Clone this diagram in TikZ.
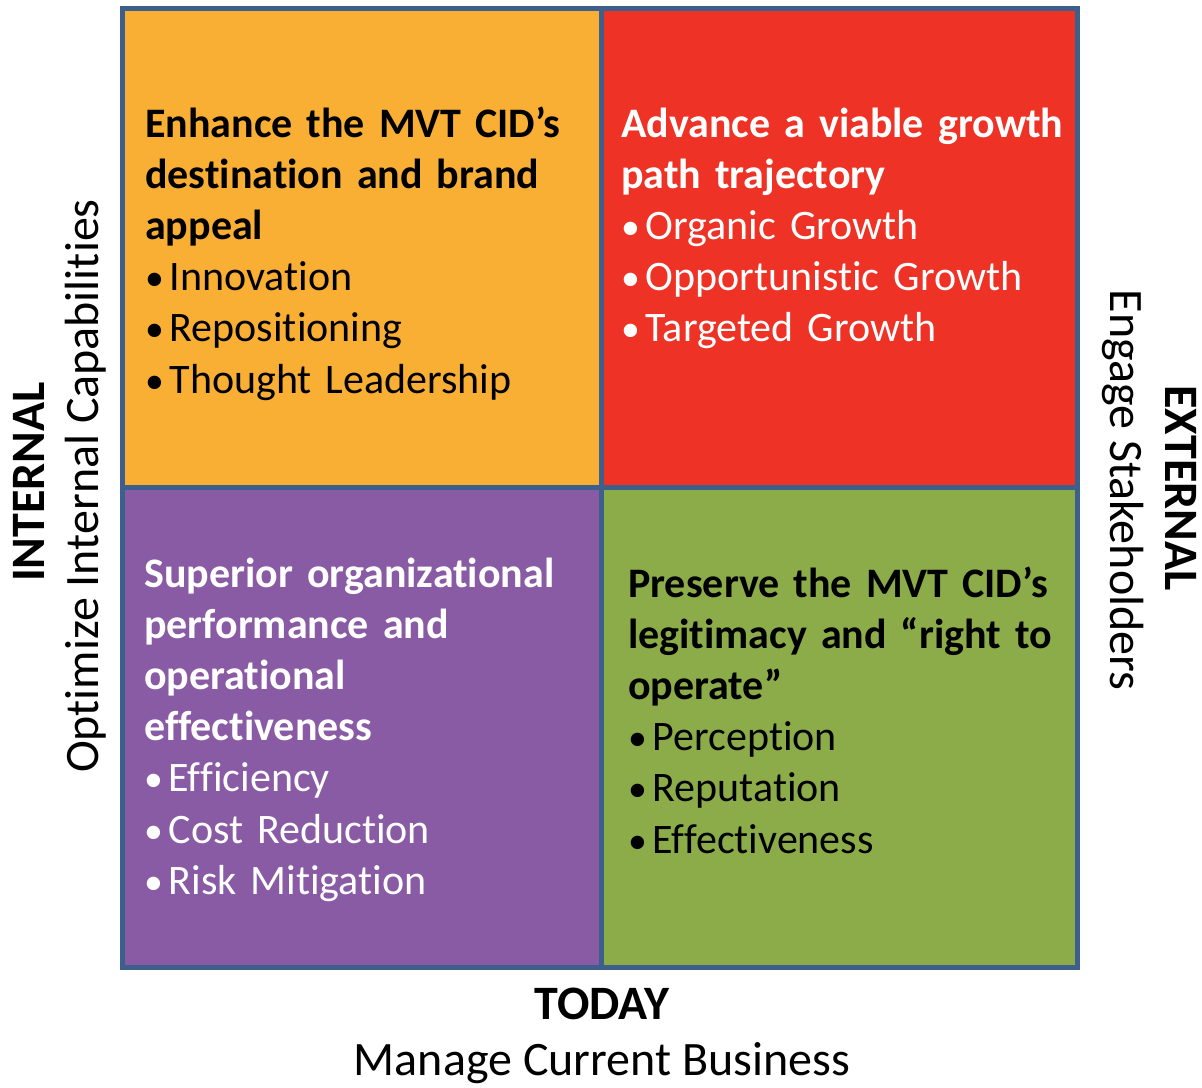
\documentclass[tikz,border=0pt]{standalone}
\usepackage{fontspec}
\setmainfont{Carlito}[Ligatures={NoCommon}]
\usepackage{xcolor}
\usepackage{tikz}
\usetikzlibrary{calc}

\definecolor{oranye}{HTML}{F9AE34}
\definecolor{merah}{HTML}{EE3225}
\definecolor{ungu}{HTML}{8A5BA5}
\definecolor{hijau}{HTML}{8BAC48}
\definecolor{garis}{HTML}{3D5F8C}

\newcommand{\butir}[1]{\makebox[24.5pt][l]{\scalebox{0.9}{\textbullet}}#1}

\tikzset{
    kotakteks/.style={anchor=base west, inner sep=0pt, text width=470pt, align=left,
        font=\fontsize{42}{51.2}\selectfont},
    labelsumbu/.style={anchor=base, inner sep=0pt, font=\fontsize{48}{58}\selectfont},
    labeltebal/.style={labelsumbu, font=\fontsize{48}{58}\selectfont\bfseries}
}

\begin{document}
\begin{tikzpicture}[x=1pt,y=-1pt]
        \useasboundingbox (0,0) rectangle (1202,1087);

        %KOORDINAT
        \coordinate (KA) at (122,8);
        \coordinate (KB) at (1077.5,8);
        \coordinate (KC) at (1077.5,967.5);
        \coordinate (KD) at (122,967.5);
        \coordinate (M) at (601.5,487);

        %KUADRAN
        \fill[oranye] (KA) rectangle (M);
        \fill[merah] (KA -| M) rectangle (M -| KB);
        \fill[ungu] (KA |- M) rectangle (M |- KD);
        \fill[hijau] (M) rectangle (KC);

        %GARIS
        \draw[garis, line width=5pt] (KA) rectangle (KC);
        \draw[garis, line width=5pt] (KA -| M) -- (KD -| M);
        \draw[garis, line width=5pt] (KA |- M) -- (KB |- M);

        %TEKS KUADRAN
        \node[kotakteks, text=black] (oranyeteks) at (145,137)
            {\textbf{Enhance the MVT CID’s}\\
             \textbf{destination and brand}\\
             \textbf{appeal}\\
             \butir{Innovation}\\
             \butir{Repositioning}\\
             \butir{Thought Leadership}};
        \node[kotakteks, text=white] (merahteks) at (621,137)
            {\textbf{Advance a viable growth}\\
             \textbf{path trajectory}\\
             \butir{Organic Growth}\\
             \butir{Opportunistic Growth}\\
             \butir{Targeted Growth}};
        \node[kotakteks, text=white] (unguteks) at (144,587)
            {\textbf{Superior organizational}\\
             \textbf{performance and}\\
             \textbf{operational}\\
             \textbf{effectiveness}\\
             \butir{Efficiency}\\
             \butir{Cost Reduction}\\
             \butir{Risk Mitigation}};
        \node[kotakteks, text=black] (hijauteks) at (628,597)
            {\textbf{Preserve the MVT CID’s}\\
             \textbf{legitimacy and “right to}\\
             \textbf{operate”}\\
             \butir{Perception}\\
             \butir{Reputation}\\
             \butir{Effectiveness}};

        %LABEL SUMBU
        \node[labeltebal, rotate=90] (internal) at (44,482) {INTERNAL};
        \node[labelsumbu, rotate=90] (optimize) at (98,486) {Optimize Internal Capabilities};
        \node[labeltebal, rotate=-90] (external) at (1165,488) {EXTERNAL};
        \node[labelsumbu, rotate=-90] (engage) at (1110,490) {Engage Stakeholders};
        \node[labeltebal] (today) at (602,1019) {TODAY};
        \node[labelsumbu] (manage) at (602,1075) {Manage Current Business};
    \end{tikzpicture}
\end{document}
